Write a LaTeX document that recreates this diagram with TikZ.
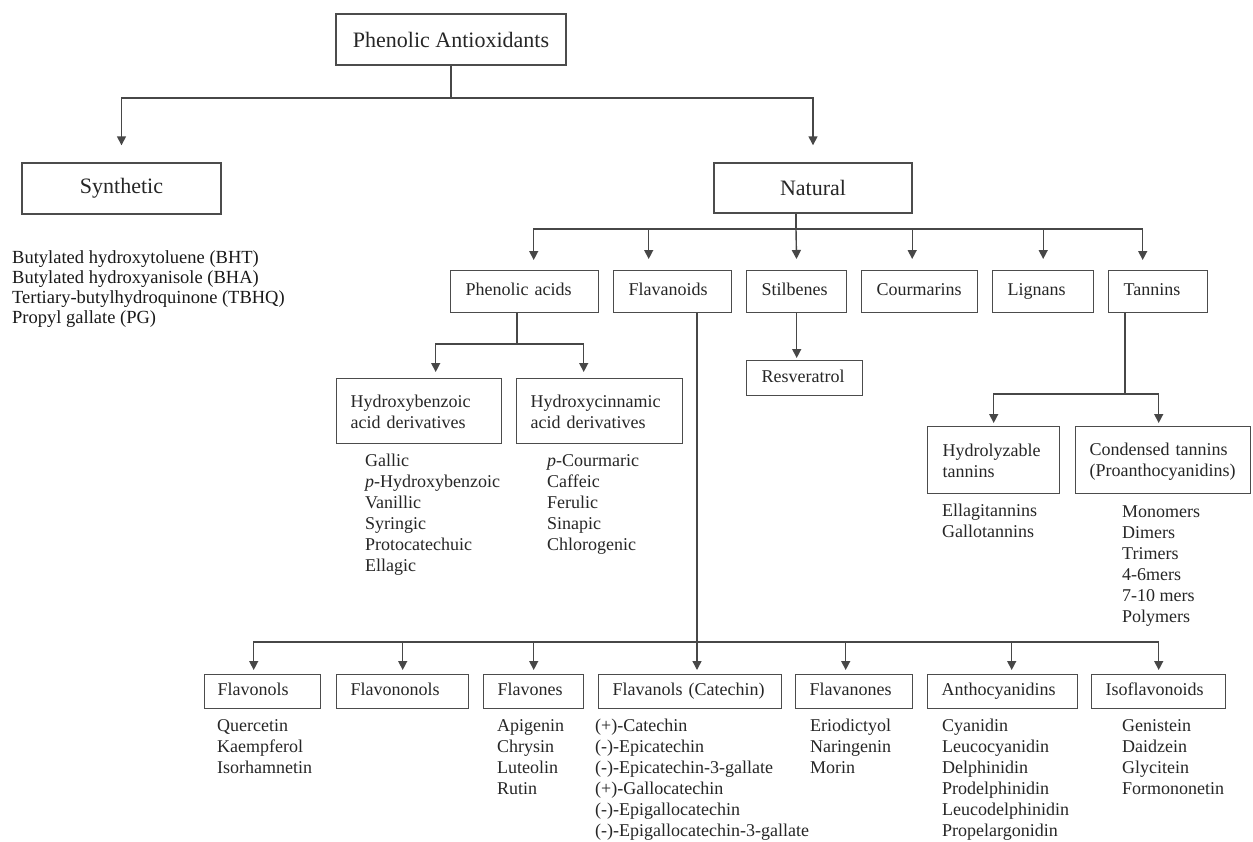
\documentclass[tikz,border=0pt]{standalone}
\usepackage{fontspec}
\setmainfont{Liberation Serif}
\usetikzlibrary{arrows.meta,calc}
\begin{document}
\begin{tikzpicture}[x=1pt,y=-1pt,
  ln/.style={draw=black!72, line width=1.4pt},
  arr/.style={ln, -{Triangle[length=9pt,width=9pt]}},
  cbox/.style={draw=black!70, line width=1.4pt, inner sep=0pt, font=\fontsize{22}{26}\selectfont, text=black!85},
  lbox/.style={draw=black!70, line width=1.4pt, inner ysep=0pt, inner xsep=15pt, align=left, anchor=north west, font=\fontsize{18}{21}\selectfont, text=black!85, execute at begin node=\strut},
  list/.style={inner sep=0pt, anchor=north west, align=left, font=\fontsize{18}{21.1}\selectfont, text=black!85},
]
\fill[white] (0,0) rectangle (1253,841);
\useasboundingbox (0,0) rectangle (1253,841);

% top level
\node[cbox, minimum width=230pt, minimum height=51pt] (top) at (451,39.5) {Phenolic Antioxidants};
\node[cbox, minimum width=199pt, minimum height=51pt] (synth) at (121.5,188.5) {Synthetic};
\node[cbox, minimum width=198pt, minimum height=50pt] (natural) at (813,188) {Natural};

% natural children
\node[lbox, text width=118pt, minimum height=42pt] (pa) at (450,270) {Phenolic acids};
\node[lbox, text width=88pt, minimum height=42pt] (flav) at (613,270) {Flavanoids};
\node[lbox, text width=70pt, minimum height=42pt] (stil) at (746,270) {Stilbenes};
\node[lbox, text width=86pt, minimum height=42pt] (cour) at (861,270) {Courmarins};
\node[lbox, text width=71pt, minimum height=42pt] (lign) at (992,270) {Lignans};
\node[lbox, text width=69pt, minimum height=42pt] (tann) at (1108,270) {Tannins};

\node[lbox, text width=86pt, minimum height=35pt] (resv) at (746,360) {Resveratrol};

\node[lbox, inner xsep=14pt, text width=137pt, minimum height=65pt] (hb) at (336,378) {Hydroxybenzoic\\acid derivatives};
\node[lbox, inner xsep=14pt, text width=138pt, minimum height=65pt] (hc) at (516,378) {Hydroxycinnamic\\acid derivatives};

\node[lbox, text width=102pt, minimum height=67pt] (hyd) at (927,426) {Hydrolyzable\\tannins};
\node[lbox, inner xsep=14pt, text width=147pt, minimum height=67pt] (cond) at (1075,426) {Condensed tannins\\(Proanthocyanidins)};

% flavonoid children
\node[lbox, inner xsep=13pt, text width=90pt, minimum height=34pt] (fol) at (204,674) {Flavonols};
\node[lbox, inner xsep=14pt, text width=104pt, minimum height=34pt] (fnl) at (336,674) {Flavononols};
\node[lbox, inner xsep=14pt, text width=72pt, minimum height=34pt] (fone) at (483,674) {Flavones};
\node[lbox, inner xsep=14pt, text width=155pt, minimum height=34pt] (fcat) at (598,674) {Flavanols (Catechin)};
\node[lbox, inner xsep=14pt, text width=89pt, minimum height=34pt] (fnone) at (795,674) {Flavanones};
\node[lbox, inner xsep=14pt, text width=122pt, minimum height=34pt] (anth) at (927,674) {Anthocyanidins};
\node[lbox, inner xsep=14pt, text width=106pt, minimum height=34pt] (iso) at (1091,674) {Isoflavonoids};

% lists
\node[list, font=\fontsize{18.5}{20}\selectfont, text=black!90] (synlist) at (12,249.5)
  {\strut Butylated hydroxytoluene (BHT)\\Butylated hydroxyanisole (BHA)\\Tertiary-butylhydroquinone (TBHQ)\\Propyl gallate (PG)};
\node[list] (hblist) at (365,451.3)
  {\strut Gallic\\\textit{p}-Hydroxybenzoic\\Vanillic\\Syringic\\Protocatechuic\\Ellagic};
\node[list] (hclist) at (547,451.3)
  {\strut\textit{p}-Courmaric\\Caffeic\\Ferulic\\Sinapic\\Chlorogenic};
\node[list] (hydlist) at (942,501.3)
  {\strut Ellagitannins\\Gallotannins};
\node[list] (condlist) at (1122,502.3)
  {\strut Monomers\\Dimers\\Trimers\\4-6mers\\7-10 mers\\Polymers};
\node[list] (follist) at (217,716.3)
  {\strut Quercetin\\Kaempferol\\Isorhamnetin};
\node[list] (fonelist) at (497,716.3)
  {\strut Apigenin\\Chrysin\\Luteolin\\Rutin};
\node[list] (fcatlist) at (595,716.3)
  {\strut (+)-Catechin\\(-)-Epicatechin\\(-)-Epicatechin-3-gallate\\(+)-Gallocatechin\\(-)-Epigallocatechin\\(-)-Epigallocatechin-3-gallate};
\node[list] (fnonelist) at (810,716.3)
  {\strut Eriodictyol\\Naringenin\\Morin};
\node[list] (anthlist) at (942,716.3)
  {\strut Cyanidin\\Leucocyanidin\\Delphinidin\\Prodelphinidin\\Leucodelphinidin\\Propelargonidin};
\node[list] (isolist) at (1122,716.3)
  {\strut Genistein\\Daidzein\\Glycitein\\Formononetin};

% connectors: top
\coordinate (j0) at (451,98);
\draw[ln] (top.south) -- (j0);
\draw[arr, shorten >=17pt] (j0) -| (synth.north);
\draw[arr, shorten >=17pt] (j0) -| (natural.north);

% natural
\coordinate (j1) at (796,229);
\draw[ln] (natural.south -| j1) -- (j1);
\draw[arr, shorten >=10pt] (j1) -| ([xshift=9pt]pa.north);
\draw[arr, shorten >=11pt] (j1) -| ([xshift=-24pt]flav.north);
\draw[arr, shorten >=11pt] (j1) -- (stil.north);
\draw[arr, shorten >=11pt] (j1) -| ([xshift=-7.5pt]cour.north);
\draw[arr, shorten >=11pt] (j1) -| (lign.north);
\draw[arr, shorten >=10pt] (j1) -| ([xshift=-15.5pt]tann.north);

% phenolic acids
\coordinate (j2) at (517,344);
\draw[ln] (pa.south -| j2) -- (j2);
\draw[arr, shorten >=6pt] (j2) -| ([xshift=16.5pt]hb.north);
\draw[arr, shorten >=6pt] (j2) -| ([xshift=-16pt]hc.north);

% stilbenes
\draw[arr, shorten >=2pt] (stil.south) -- (stil.south |- resv.north);

% tannins
\coordinate (j4) at (1125,394);
\draw[ln] (tann.south -| j4) -- (j4);
\draw[arr, shorten >=3pt] (j4) -| (hyd.north);
\draw[arr, shorten >=3pt] (j4) -| ([xshift=-4.5pt]cond.north);

% flavanoids
\coordinate (j3) at (697,642);
\draw[ln] (flav.south -| j3) -- (j3);
\draw[arr, shorten >=4pt] (j3) -| ([xshift=-9pt]fol.north);
\draw[arr, shorten >=4pt] (j3) -| (fnl.north);
\draw[arr, shorten >=4pt] (j3) -| (fone.north);
\draw[arr, shorten >=4pt] (j3) -- (j3 |- fcat.north);
\draw[arr, shorten >=4pt] (j3) -| ([xshift=-8.5pt]fnone.north);
\draw[arr, shorten >=4pt] (j3) -| ([xshift=9pt]anth.north);
\draw[arr, shorten >=4pt] (j3) -| (iso.north);
\end{tikzpicture}
\end{document}
